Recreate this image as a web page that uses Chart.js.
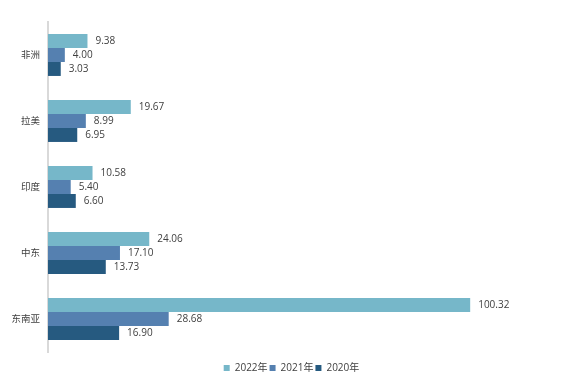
<!DOCTYPE html>
<html>
<head>
<meta charset="utf-8">
<script src="https://cdn.jsdelivr.net/npm/chart.js@4"></script>
<style>
    html, body { margin: 0; padding: 0; background: #fff; }
    #wrap { width: 573px; height: 379px; }
</style>
</head>
<body>
<div id="wrap"><canvas id="barChart"></canvas></div>
<script>
const regions = ["非洲", "拉美", "印度", "中东", "东南亚"];
const seriesNames = ["2022年", "2021年", "2020年"];
const values2022 = [9.38, 19.67, 10.58, 24.06, 100.32];
const values2021 = [4.00, 8.99, 5.40, 17.10, 28.68];
const values2020 = [3.03, 6.95, 6.60, 13.73, 16.90];
const colors = ["#76b7c9", "#5580b0", "#265a80"];

const FONT = "'Open Sans', 'Noto Sans CJK SC', sans-serif";

/**
 * Draw the value next to the end of each bar.
 */
const valueLabels = {
    id: "valueLabels",
    afterDatasetsDraw(chart) {
        const ctx = chart.ctx;
        ctx.save();
        ctx.font = "10px " + FONT;
        ctx.fillStyle = "#404040";
        ctx.textAlign = "left";
        ctx.textBaseline = "middle";
        chart.data.datasets.forEach(function(ds, i) {
            chart.getDatasetMeta(i).data.forEach(function(bar, j) {
                ctx.fillText(ds.data[j].toFixed(2), bar.x + 8, bar.y);
            });
        });
        ctx.restore();
    }
};

/**
 * Nudge the legend down and a bit right, like the original.
 */
const legendShift = {
    id: "legendShift",
    afterLayout(chart) {
        const lg = chart.legend;
        lg.top += 9;
        lg.bottom += 9;
        lg.left += 15;
        lg.right += 15;
    }
};

new Chart(document.getElementById("barChart"), {
    type: "bar",
    data: {
        labels: regions,
        datasets: [values2022, values2021, values2020].map(function(vals, i) {
            return {
                label: seriesNames[i],
                data: vals,
                backgroundColor: colors[i],
                categoryPercentage: 0.635,
                barPercentage: 1
            };
        })
    },
    options: {
        indexAxis: "y",
        responsive: true,
        maintainAspectRatio: false,
        animation: false,
        layout: { padding: { top: 22, right: 20, left: 0, bottom: 5 } },
        scales: {
            x: {
                display: false,
                min: 0,
                max: 120
            },
            y: {
                grid: { display: false, tickLength: 0 },
                border: { display: true, color: "#d9d9d9", width: 2 },
                ticks: {
                    color: "#404040",
                    font: { size: 9.5, family: FONT },
                    padding: 8
                },
                afterFit(scale) {
                    scale.width = 48;
                }
            }
        },
        plugins: {
            legend: {
                position: "bottom",
                labels: {
                    boxWidth: 6,
                    boxHeight: 6,
                    padding: 2,
                    color: "#404040",
                    font: { size: 10, family: FONT }
                }
            },
            tooltip: { enabled: false }
        }
    },
    plugins: [valueLabels, legendShift]
});
</script>
</body>
</html>
